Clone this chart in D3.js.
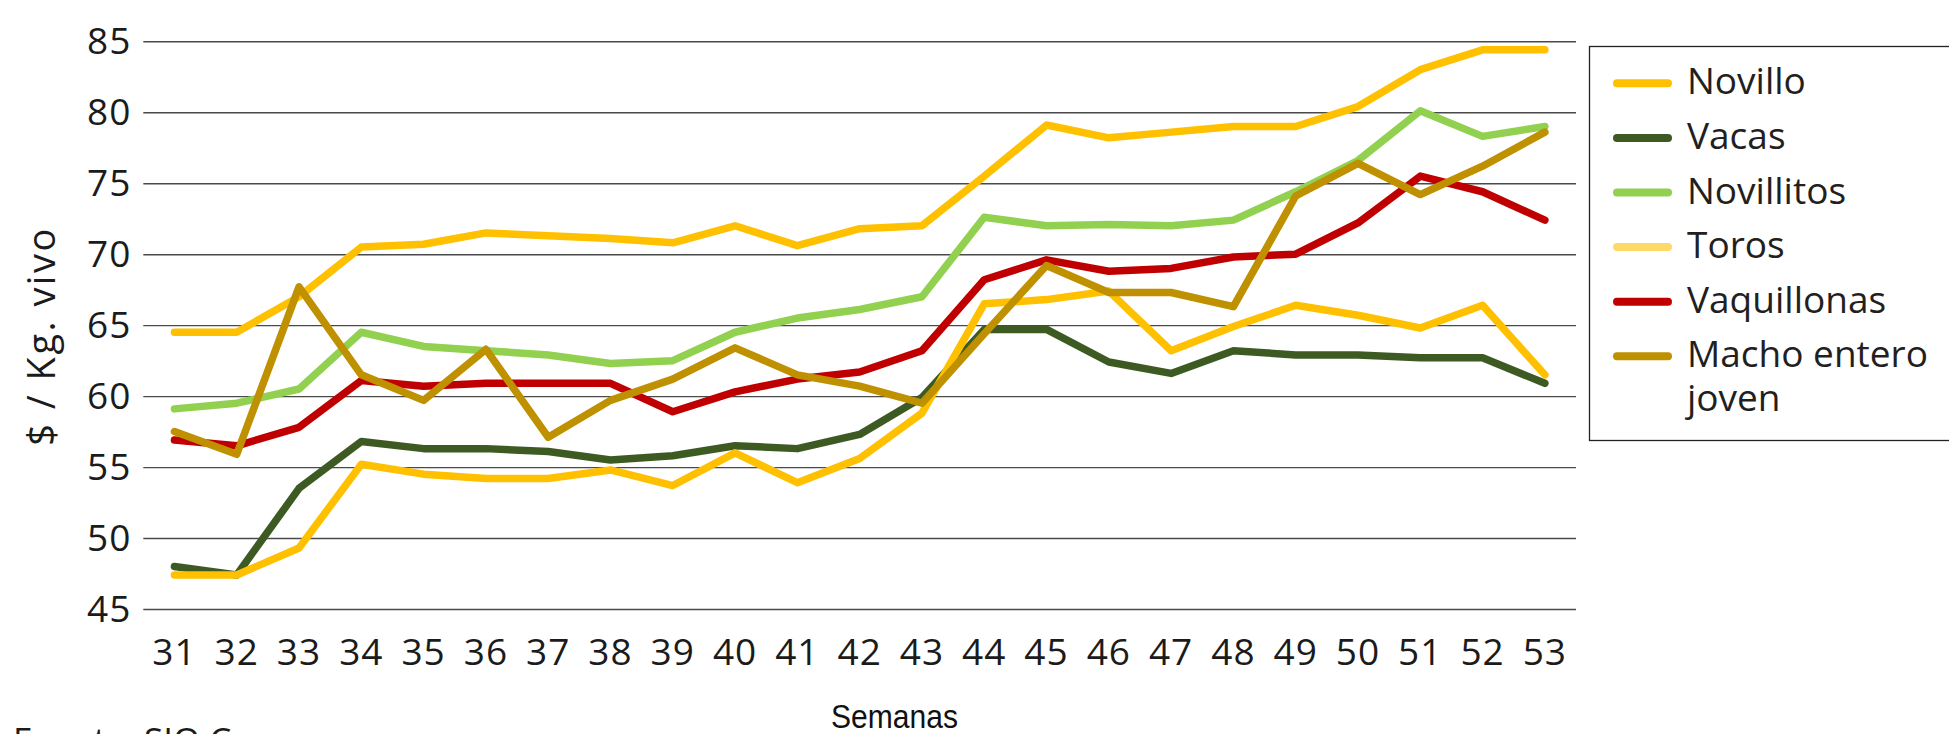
<!DOCTYPE html>
<html>
<head>
<meta charset="utf-8">
<script src="https://cdn.jsdelivr.net/npm/d3@7"></script>
<style>
  body { margin: 0; background: #fff; }
  svg { display: block; }
</style>
</head>
<body>
<div id="chart"></div>
<script>
// Data
var semanas = [31, 32, 33, 34, 35, 36, 37, 38, 39, 40, 41, 42, 43, 44, 45, 46, 47, 48, 49, 50, 51, 52, 53];
var yTicks = [45, 50, 55, 60, 65, 70, 75, 80, 85];

var novillo     = [64.5, 64.5, 67.0, 70.5, 70.7, 71.5, 71.3, 71.1, 70.8, 72.0, 70.6, 71.8, 72.0, 75.5, 79.1, 78.2, 78.6, 79.0, 79.0, 80.4, 83.0, 84.4, 84.4];
var vacas       = [48.0, 47.4, 53.5, 56.8, 56.3, 56.3, 56.1, 55.5, 55.8, 56.5, 56.3, 57.3, 59.9, 64.7, 64.7, 62.4, 61.6, 63.2, 62.9, 62.9, 62.7, 62.7, 60.9];
var novillitos  = [59.1, 59.5, 60.5, 64.5, 63.5, 63.2, 62.9, 62.3, 62.5, 64.5, 65.5, 66.1, 67.0, 72.6, 72.0, 72.1, 72.0, 72.4, 74.4, 76.6, 80.1, 78.3, 79.0];
var toros       = [47.4, 47.4, 49.3, 55.2, 54.5, 54.2, 54.2, 54.8, 53.7, 56.0, 53.9, 55.6, 58.8, 66.5, 66.8, 67.4, 63.2, 64.9, 66.4, 65.7, 64.8, 66.4, 61.5];
var vaquillonas = [56.9, 56.5, 57.8, 61.1, 60.7, 60.9, 60.9, 60.9, 58.9, 60.3, 61.2, 61.7, 63.2, 68.2, 69.6, 68.8, 69.0, 69.8, 70.0, 72.2, 75.5, 74.4, 72.4];
var macho       = [57.5, 55.9, 67.7, 61.5, 59.7, 63.3, 57.1, 59.7, 61.2, 63.4, 61.5, 60.7, 59.5, 64.4, 69.2, 67.3, 67.3, 66.3, 74.1, 76.4, 74.2, 76.2, 78.6];

var seriesNames = ["Novillo", "Vacas", "Novillitos", "Toros", "Vaquillonas", "Macho entero joven"];
var seriesValues = [novillo, vacas, novillitos, toros, vaquillonas, macho];
var lineColors = ["#FFC000", "#3D5A23", "#92D050", "#FFC000", "#C00000", "#BF9000"];
var legendColors = ["#FFC000", "#3D5A23", "#92D050", "#FFD966", "#C00000", "#BF9000"];

// Size
var svgWidth = 1949;
var svgHeight = 734;
var plot = { left: 143.3, right: 1576, top: 41.3, bottom: 609 };
var font = "'Open Sans', 'Noto Sans', sans-serif";
var textColor = "#1b1b1b";

var svg = d3.select("#chart").append("svg").attr("width", svgWidth).attr("height", svgHeight);

var xScale = d3.scaleBand().domain(semanas).range([plot.left, plot.right]);
var yScale = d3.scaleLinear().domain([45, 85]).range([plot.bottom, plot.top]);

// gridlines + y labels
var yAxis = svg.append("g")
  .attr("transform", `translate(${plot.left}, 0)`)
  .call(d3.axisLeft(yScale).tickValues(yTicks).tickSize(-(plot.right - plot.left)).tickPadding(12));
yAxis.select(".domain").remove();
yAxis.selectAll(".tick line").attr("stroke", "#4a4a4a").attr("stroke-width", 1.4);
yAxis.selectAll(".tick text")
  .style("font-family", font).style("font-size", "37px").style("letter-spacing", "1px")
  .attr("fill", textColor).attr("dy", "0.34em");

// x labels
var xAxis = svg.append("g")
  .attr("transform", `translate(0, ${plot.bottom})`)
  .call(d3.axisBottom(xScale).tickSize(0).tickPadding(30));
xAxis.select(".domain").remove();
xAxis.selectAll(".tick text")
  .style("font-family", font).style("font-size", "37px").style("letter-spacing", "1px")
  .attr("fill", textColor).attr("dy", "0.71em");

// lines
var line = d3.line()
  .x((d, i) => xScale(semanas[i]) + xScale.bandwidth() / 2)
  .y(d => yScale(d));

svg.append("g").selectAll("path").data(seriesValues).enter().append("path")
  .attr("d", d => line(d))
  .attr("fill", "none")
  .attr("stroke", (d, i) => lineColors[i])
  .attr("stroke-width", 7.5)
  .attr("stroke-linejoin", "round")
  .attr("stroke-linecap", "round");

// axis titles
svg.append("text")
  .attr("transform", "translate(55, 336) rotate(-90)")
  .attr("text-anchor", "middle")
  .style("font-family", font).style("font-size", "38px").style("letter-spacing", "2.5px")
  .attr("fill", textColor)
  .text("$ / Kg. vivo");

svg.append("text")
  .attr("x", 831).attr("y", 728)
  .attr("textLength", 127).attr("lengthAdjust", "spacingAndGlyphs")
  .style("font-family", "'Liberation Sans', Arial, sans-serif").style("font-size", "34px").attr("fill", "#111")
  .text("Semanas");

// source note, mostly below the bottom edge as in the original
svg.append("text")
  .attr("x", 13).attr("y", 753)
  .style("font-family", font).style("font-size", "35px")
  .attr("fill", textColor)
  .text("Fuente: SIO Carnes");

// legend
var legend = svg.append("g");
legend.append("rect")
  .attr("x", 1589.5).attr("y", 46.5).attr("width", 400).attr("height", 394)
  .attr("fill", "#fff").attr("stroke", "#222").attr("stroke-width", 1.3);

var items = legend.selectAll(".item").data(seriesNames).enter().append("g")
  .attr("class", "item")
  .attr("transform", (d, i) => `translate(1613, ${83.3 + i * 54.6})`);

items.append("line")
  .attr("x1", 4).attr("x2", 55)
  .attr("stroke", (d, i) => legendColors[i])
  .attr("stroke-width", 8)
  .attr("stroke-linecap", "round");

// long name wraps onto two lines like the original
items.each(function(d) {
  var g = d3.select(this);
  var parts = d === "Macho entero joven" ? ["Macho entero", "joven"] : [d];
  parts.forEach((p, k) => {
    g.append("text")
      .attr("x", 74).attr("y", 11 + k * 44)
      .style("font-family", font).style("font-size", "37px").attr("fill", "#231f20")
      .text(p);
  });
});
</script>
</body>
</html>
